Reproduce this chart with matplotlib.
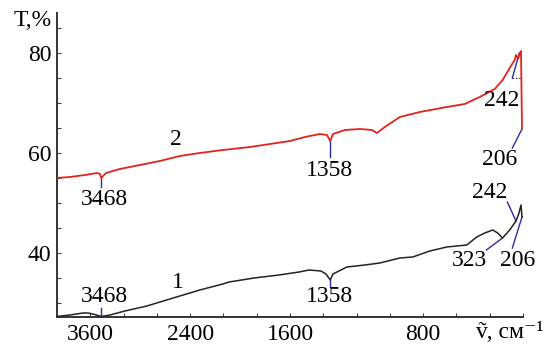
import numpy as np
import matplotlib
matplotlib.use("Agg")
import matplotlib.pyplot as plt
from matplotlib.ticker import FixedLocator, NullFormatter, FixedFormatter

plt.rcParams['font.family'] = ['Liberation Serif', 'DejaVu Serif']

# IR transmission spectra, wavenumber (cm^-1) vs transmittance (%)
nu2 = [4000, 3844, 3664, 3520, 3484, 3468, 3412, 3244, 3004, 2764, 2524, 2284,
       2008, 1840, 1720, 1600, 1510, 1420, 1378, 1358, 1342, 1270, 1180, 1108,
       1078, 1030, 940, 820, 658, 550, 460, 370, 322, 280, 250, 242, 230, 218,
       212, 206]
t2 = [55.0, 55.2, 55.6, 56.0, 55.8, 55.0, 56.0, 56.8, 57.6, 58.4, 59.4, 60.0,
      60.6, 61.2, 61.8, 62.4, 63.2, 63.8, 63.6, 62.4, 63.8, 64.6, 64.8, 64.6,
      64.0, 65.2, 67.2, 68.2, 69.2, 69.8, 71.2, 72.8, 74.6, 77.0, 78.6, 79.6,
      78.8, 80.0, 80.4, 64.8]

nu1 = [4000, 3844, 3688, 3628, 3568, 3508, 3468, 3364, 3184, 2920, 2644, 2284,
       2008, 1966, 1816, 1666, 1546, 1486, 1414, 1384, 1358, 1342, 1258, 1150,
       1060, 940, 862, 760, 658, 538, 478, 430, 382, 352, 323, 280, 242, 226,
       212, 206]
t1 = [27.3, 27.6, 28.0, 28.0, 27.8, 27.5, 27.3, 27.6, 28.4, 29.4, 30.8, 32.6,
      33.8, 34.2, 35.0, 35.6, 36.2, 36.6, 36.4, 35.8, 34.6, 35.8, 37.2, 37.6,
      38.0, 39.0, 39.2, 40.4, 41.2, 41.6, 43.2, 44.0, 44.6, 44.0, 43.0, 44.6,
      46.4, 47.8, 49.6, 47.2]

x_major = [3600, 2400, 1600, 800]
x_minor = [4000, 3200, 2800, 2000, 1800, 1400, 1200, 1000, 600, 400, 200]
y_major = [40, 60, 80]
y_minor = [30, 35, 45, 50, 55, 65, 70, 75, 85]

BREAK = 2000.0
SPLIT = (4000.0 - BREAK) / 12.0


def fwd(v):
    v = np.asarray(v, dtype=float)
    return np.where(v >= BREAK, -(4000.0 - v) / 12.0,
                    -(SPLIT + (BREAK - v) / 6.0))


def inv(p):
    p = np.asarray(p, dtype=float)
    return np.where(p >= -SPLIT, 4000.0 + 12.0 * p,
                    BREAK + 6.0 * (p + SPLIT))


fig = plt.figure(figsize=(5.52, 3.48), dpi=100)
ax = fig.add_axes([57 / 552, 1 - 317 / 348, (523 - 57) / 552, (317 - 13) / 348])
ax.set_xscale('function', functions=(fwd, inv))
ax.set_xlim(4000, 200)
ax.set_ylim(27.2, 88)

ax.plot(nu2, t2, color='#e3221e', lw=1.3, zorder=3)
ax.plot(nu1, t1, color='#222222', lw=1.1, zorder=3)

for s in ['top', 'right']:
    ax.spines[s].set_visible(False)
for s in ['left', 'bottom']:
    ax.spines[s].set_color('#333333')
    ax.spines[s].set_linewidth(1.4)

ax.xaxis.set_major_locator(FixedLocator(x_major))
ax.xaxis.set_major_formatter(FixedFormatter([str(v) for v in x_major]))
ax.xaxis.set_minor_locator(FixedLocator(x_minor))
ax.xaxis.set_minor_formatter(NullFormatter())
ax.yaxis.set_major_locator(FixedLocator(y_major))
ax.yaxis.set_major_formatter(FixedFormatter([str(v) for v in y_major]))
ax.yaxis.set_minor_locator(FixedLocator(y_minor))
ax.tick_params(which='both', direction='in', length=3, width=0.8,
               color='#444444', labelsize=17)
ax.tick_params(axis='x', pad=5)
ax.tick_params(axis='y', pad=4)

fs = 17
blue = '#2b2ba8'

# peak labels with leader lines: (text, text x, text y, line from, line to)
marks = [
    ('3468', 3430, 50.6, (3468, 55.0), (3468, 53.2)),
    ('1358', 1360, 56.4, (1358, 62.4), (1358, 59.2)),
    ('242', 330, 70.4, (264, 75.0), (222, 80.0)),
    ('206', 340, 58.6, (264, 61.0), (206, 64.8)),
    ('3468', 3430, 31.2, (3468, 29.0), (3468, 27.3)),
    ('1358', 1360, 31.2, (1358, 34.6), (1358, 33.2)),
    ('242', 402, 52.0, (294, 50.2), (242, 46.4)),
    ('323', 522, 38.6, (420, 40.6), (323, 43.0)),
    ('206', 234, 38.6, (264, 41.0), (206, 47.2)),
]
for txt, tx, ty, p0, p1 in marks:
    ax.text(tx, ty, txt, fontsize=fs, ha='center', va='center', zorder=4)
    ax.plot([p0[0], p1[0]], [p0[1], p1[1]], color=blue, lw=1.0, zorder=2)

ax.plot([264, 204], [75.0, 75.0], color='#333366', lw=0.8, ls=(0, (1.5, 1.5)),
        zorder=2)

ax.text(2572, 62.6, '2', fontsize=fs, ha='center', va='center')
ax.text(2548, 34.2, '1', fontsize=fs, ha='center', va='center')

fig.text(52 / 552, 1 - 20 / 348, 'T,%', fontsize=fs, ha='right', va='center')
fig.text(509 / 552, 1 - 333 / 348, 'ṽ, см⁻¹', fontsize=fs, ha='center',
         va='center')

fig.savefig('out.png', dpi=100)
